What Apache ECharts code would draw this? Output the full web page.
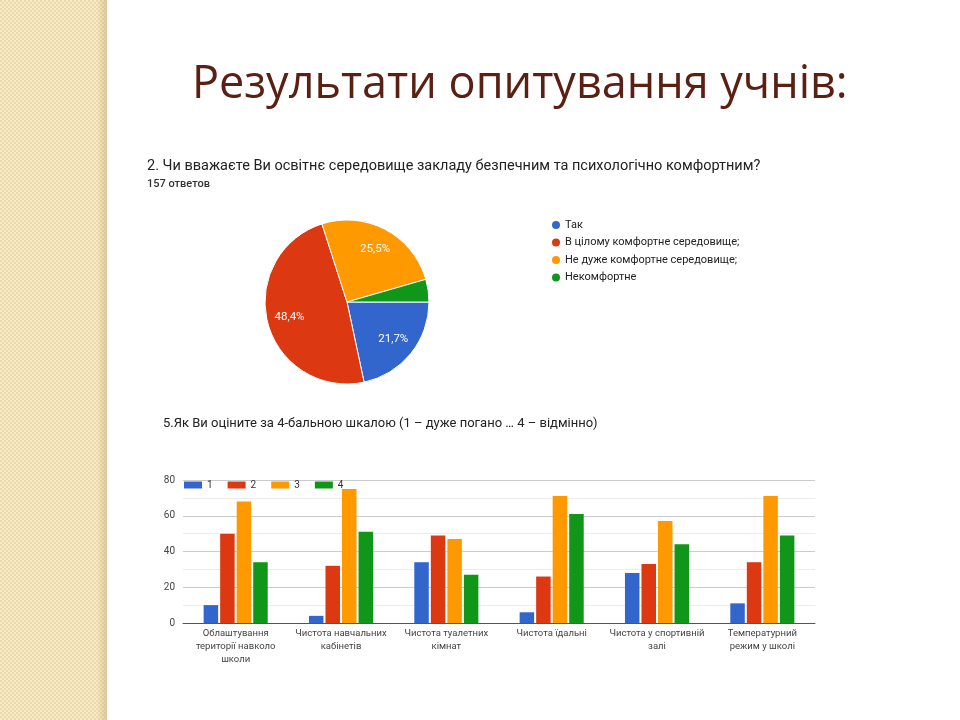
<!DOCTYPE html>
<html>
<head>
<meta charset="utf-8">
<script src="https://cdn.jsdelivr.net/npm/echarts@6/dist/echarts.min.js"></script>
<style>
  html, body { margin: 0; padding: 0; background: #fff; }
  #band {
    position: absolute; left: 0; top: 0; width: 107px; height: 720px;
    background-color: #f3e1b2;
    background-image:
      linear-gradient(to right, rgba(0,0,0,0) 0, rgba(0,0,0,0) 97px, rgba(150,120,60,0.25) 107px),
      repeating-conic-gradient(#f7eaca 0 25%, #eedaa8 0 50%);
    background-size: 107px 720px, 4px 4px;
  }
  #main { position: absolute; left: 0; top: 0; width: 960px; height: 720px; }
</style>
</head>
<body>
<div id="band"></div>
<div id="main"></div>
<script>
// pie: question 2
const pieNames = ['Так', 'В цілому комфортне середовище;', 'Не дуже комфортне середовище;', 'Некомфортне'];
const pieValues = [34, 76, 40, 7];
const pieColors = ['#3366cc', '#dc3912', '#ff9900', '#109618'];

// bars: question 5
const barCategories = [
  'Облаштування\nтериторії навколо\nшколи',
  'Чистота навчальних\nкабінетів',
  'Чистота туалетних\nкімнат',
  'Чистота їдальні',
  'Чистота у спортивній\nзалі',
  'Температурний\nрежим у школі'
];
const barSeriesNames = ['1', '2', '3', '4'];
const score1 = [10, 4, 34, 6, 28, 11];
const score2 = [50, 32, 49, 26, 33, 34];
const score3 = [68, 75, 47, 71, 57, 71];
const score4 = [34, 51, 27, 61, 44, 49];
const yTicks = [0, 20, 40, 60, 80];

const chart = echarts.init(document.getElementById('main'), null, { renderer: 'canvas' });

const pieTotal = pieValues.reduce((a, b) => a + b, 0);

// plain rounding of each share (echarts' own percent is adjusted to sum to 100)
function fmtPercent(p) {
  const pct = p.value / pieTotal * 100;
  if (pct < 5) return '';
  return pct.toFixed(1).replace('.', ',') + '%';
}

const barData = [score1, score2, score3, score4];

const option = {
  backgroundColor: 'transparent',
  textStyle: { fontFamily: 'Roboto, "Noto Sans", Arial, sans-serif' },
  title: [
    {
      text: 'Результати опитування учнів:',
      left: 192, top: 63, padding: 0,
      textStyle: { fontFamily: '"Open Sans", "Noto Sans", sans-serif', fontSize: 45, fontWeight: 'normal', color: '#5a2014' }
    },
    {
      text: '2. Чи вважаєте Ви освітнє середовище закладу безпечним та психологічно комфортним?',
      left: 147, top: 159, padding: 0,
      textStyle: { fontSize: 14.5, fontWeight: 'normal', color: '#222' }
    },
    {
      text: '157 ответов',
      left: 147, top: 179, padding: 0,
      textStyle: { fontSize: 11, fontWeight: 500, color: '#333' }
    },
    {
      text: '5.Як Ви оціните за 4-бальною шкалою (1 – дуже погано … 4 – відмінно)',
      left: 163, top: 417, padding: 0,
      textStyle: { fontSize: 13, fontWeight: 'normal', color: '#222' }
    }
  ],
  legend: [
    {
      data: pieNames,
      orient: 'vertical',
      left: 550, top: 219, padding: 0,
      icon: 'circle',
      itemWidth: 10, itemHeight: 10,
      itemGap: 5.5,
      textStyle: { fontSize: 11, color: '#222', padding: [0, 0, 0, -1] },
      selectedMode: false
    },
    {
      data: barSeriesNames,
      orient: 'horizontal',
      left: 184, top: 480, padding: 0,
      icon: 'rect',
      itemWidth: 18, itemHeight: 7,
      itemGap: 15,
      textStyle: { fontSize: 10, color: '#333' },
      selectedMode: false
    }
  ],
  grid: { left: 183, right: 145, top: 480, bottom: 97, containLabel: false },
  xAxis: {
    type: 'category',
    data: barCategories,
    axisLine: { lineStyle: { color: '#555', width: 1 } },
    axisTick: { show: false },
    axisLabel: { color: '#444', fontSize: 9.5, lineHeight: 13, margin: 4, interval: 0 }
  },
  yAxis: {
    type: 'value',
    min: yTicks[0],
    max: yTicks[yTicks.length - 1],
    interval: 20,
    axisLine: { show: false },
    axisTick: { show: false },
    axisLabel: { color: '#444', fontSize: 10, margin: 8 },
    splitLine: { lineStyle: { color: '#cccccc' } },
    minorTick: { show: false, splitNumber: 2 },
    minorSplitLine: { show: true, lineStyle: { color: '#ececec' } }
  },
  series: [
    {
      type: 'pie',
      center: [347, 302],
      radius: [0, 82],
      startAngle: 0,
      clockwise: true,
      label: { show: false },
      labelLine: { show: false },
      itemStyle: { borderColor: '#fff', borderWidth: 1 },
      emphasis: { disabled: true },
      data: pieNames.map((n, i) => ({ name: n, value: pieValues[i], itemStyle: { color: pieColors[i] } }))
    },
    {
      // label-only ring so percentages sit at ~0.7 of the radius like the original
      type: 'pie',
      center: [347, 302],
      radius: [31, 82],
      startAngle: 0,
      clockwise: true,
      silent: true,
      itemStyle: { color: 'rgba(0,0,0,0)' },
      label: { show: true, position: 'inside', formatter: fmtPercent, color: '#fff', fontSize: 11.5 },
      labelLine: { show: false },
      emphasis: { disabled: true },
      data: pieValues.map((v, i) => ({ name: 'lbl' + i, value: v }))
    }
  ].concat(barSeriesNames.map((name, i) => ({
    type: 'bar',
    name: name,
    data: barData[i],
    barWidth: 14.5,
    barGap: '14%',
    itemStyle: { color: pieColors[i] },
    emphasis: { disabled: true }
  })))
};

chart.setOption(option);
</script>
</body>
</html>
